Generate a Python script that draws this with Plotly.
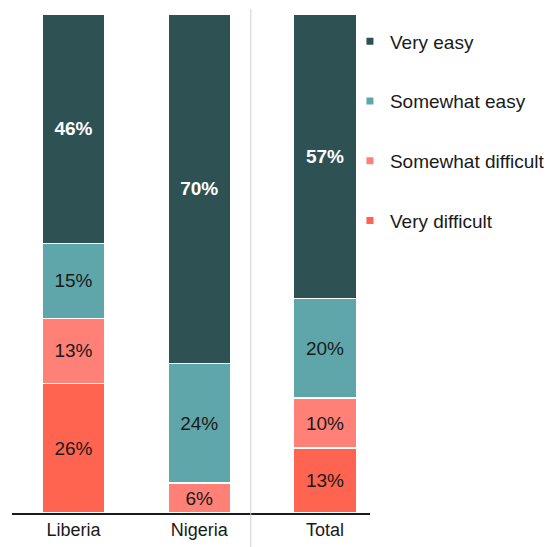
import plotly.graph_objects as go

countries = ["Liberia", "Nigeria", "Total"]
very_difficult = [26, None, 13]
somewhat_difficult = [13, 6, 10]
somewhat_easy = [15, 24, 20]
very_easy = [46, 70, 57]

FONT = "Liberation Sans, Arial, sans-serif"

series = [
    ("Very difficult", very_difficult, "#fe6450", "#1a1a1a"),
    ("Somewhat difficult", somewhat_difficult, "#fe8076", "#1a1a1a"),
    ("Somewhat easy", somewhat_easy, "#5fa6ab", "#1a1a1a"),
    ("Very easy", very_easy, "#2e5254", "#ffffff"),
]

xs = list(range(len(countries)))

fig = go.Figure()
for name, vals, color, tcolor in series:
    bold = tcolor == "#ffffff"
    fig.add_trace(go.Bar(
        x=xs, y=vals, name=name, width=0.5,
        marker=dict(color=color, line=dict(color="white", width=1.5)),
        texttemplate="<b>%{y}%</b>" if bold else "%{y}%",
        textposition="inside", insidetextanchor="middle",
        textangle=0, constraintext="none",
        textfont=dict(family=FONT, size=19, color=tcolor),
        showlegend=False, hoverinfo="skip",
    ))

# legend entries: small square markers, top-down order
for i, (name, vals, color, tcolor) in enumerate(reversed(series)):
    fig.add_trace(go.Scatter(
        x=[None], y=[None], mode="markers", name=name,
        marker=dict(symbol="square", size=7, color=color),
        legendgroup=f"g{i}", legendrank=i + 1,
    ))

# divider between the countries and the total
fig.add_shape(type="line", xref="x", yref="paper", x0=1.41, x1=1.41,
              y0=-0.08, y1=1.01, line=dict(color="#d0d0d0", width=1))

fig.update_layout(
    barmode="stack",
    width=547, height=547,
    margin=dict(l=12, r=177, t=14, b=34, autoexpand=False),
    plot_bgcolor="white", paper_bgcolor="white",
    font=dict(family=FONT, size=18, color="#1a1a1a"),
    xaxis=dict(range=[-0.489, 2.358], tickvals=xs, ticktext=countries,
               showline=True, linecolor="#1a1a1a", linewidth=1.5,
               showgrid=False, zeroline=False, ticks="",
               tickfont=dict(family=FONT, size=18, color="#1a1a1a")),
    yaxis=dict(range=[0, 100], visible=False, showgrid=False, zeroline=False),
    legend=dict(x=0.944, xanchor="left", y=0.983, yanchor="top",
                traceorder="grouped", tracegroupgap=32,
                font=dict(family=FONT, size=19, color="#1a1a1a"),
                bgcolor="rgba(0,0,0,0)"),
)

fig.write_html("out.html")
